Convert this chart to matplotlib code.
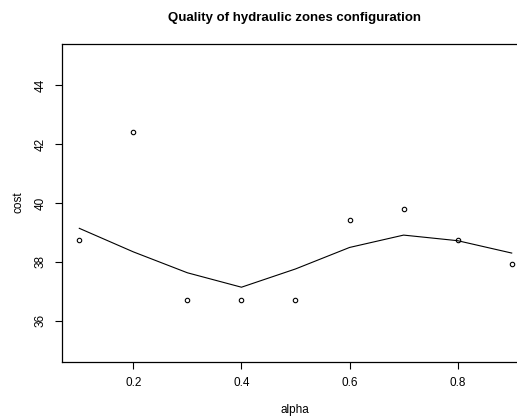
import matplotlib
matplotlib.use("Agg")
import matplotlib.pyplot as plt

alpha = [0.1, 0.2, 0.3, 0.4, 0.5, 0.6, 0.7, 0.8, 0.9]
cost_points = [38.73, 42.41, 36.72, 36.72, 36.72, 39.41, 39.81, 38.73, 37.93]
cost_smooth = [39.14, 38.34, 37.63, 37.14, 37.76, 38.49, 38.91, 38.72, 38.30]
xticks = [0.2, 0.4, 0.6, 0.8]
yticks = [36, 38, 40, 42, 44]

plt.rcParams['font.family'] = ['Liberation Sans', 'DejaVu Sans']

W, H = 517, 416
fig = plt.figure(figsize=(W / 100, H / 100), dpi=100)
ax = fig.add_axes([62 / W, 1 - 362 / H, (529 - 62) / W, (362 - 44) / H])

ax.plot(alpha, cost_points, linestyle='none', marker='o', markersize=3.2,
        markerfacecolor='none', markeredgecolor='black', markeredgewidth=0.8)
ax.plot(alpha, cost_smooth, color='black', linewidth=0.8)

ax.set_xlim(0.068, 0.932)
ax.set_ylim(34.6, 45.4)
ax.set_xticks(xticks)
ax.set_xticklabels([f"{v:.1f}" for v in xticks])
ax.set_yticks(yticks)
ax.set_yticklabels([str(v) for v in yticks], rotation=90, va='center')
ax.tick_params(axis='both', direction='out', length=5, width=0.8, labelsize=8.5, pad=6)
for s in ax.spines.values():
    s.set_linewidth(0.9)

fig.text(295 / W, 1 - 18 / H, "Quality of hydraulic zones configuration",
         ha='center', va='center', fontsize=9.5, fontweight='bold')
fig.text(295 / W, 1 - 410 / H, "alpha", ha='center', va='center', fontsize=8.5)
fig.text(18 / W, 1 - 202 / H, "cost", ha='center', va='center', fontsize=8.5, rotation=90)

fig.savefig("out.png", dpi=100)
